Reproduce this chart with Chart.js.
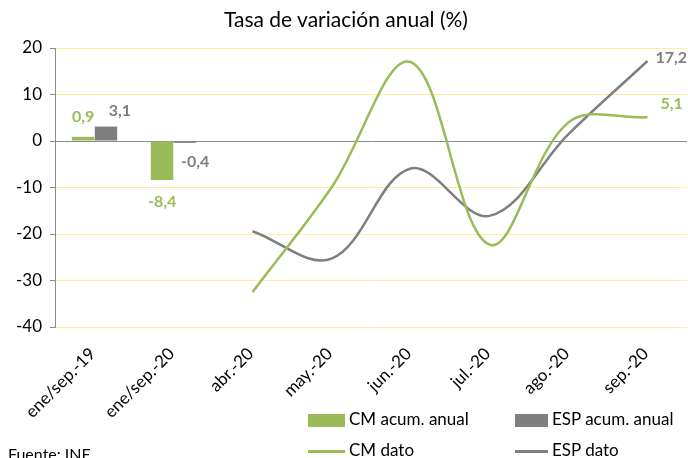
<!DOCTYPE html>
<html>
<head>
<meta charset="utf-8">
<script src="https://cdn.jsdelivr.net/npm/chart.js@4"></script>
<style>
  body { margin: 0; background: #fff; font-family: Lato, 'Noto Sans', sans-serif; }
  #wrap { position: relative; width: 688px; height: 458px; overflow: hidden; }
  #subtitle { position: absolute; top: 6px; left: 2px; width: 688px; text-align: center; font-size: 21px; color: #000; }
  .leg { position: absolute; font-size: 17px; color: #000; white-space: nowrap; }
  .leg span { display: inline-block; vertical-align: middle; margin-right: 4px; }
  #fuente { position: absolute; left: 8px; top: 444px; font-size: 16px; color: #000; }
</style>
</head>
<body>
<div id="wrap">
  <canvas id="chart" width="688" height="458"></canvas>
  <div id="subtitle">Tasa de variación anual (%)</div>
  <div class="leg" style="left:308px;top:408px"><span style="width:37px;height:13px;background:#9bbb59"></span>CM acum. anual</div>
  <div class="leg" style="left:515px;top:408px"><span style="width:33px;height:13px;background:#7f7f7f"></span>ESP acum. anual</div>
  <div class="leg" style="left:308px;top:439px"><span style="width:37px;height:3px;background:#9bbb59"></span>CM dato</div>
  <div class="leg" style="left:515px;top:439px"><span style="width:33px;height:3px;background:#7f7f7f"></span>ESP dato</div>
  <div id="fuente">Fuente: INE</div>
</div>
<script>
const categories = ['ene/sep.-19', 'ene/sep.-20', 'abr.-20', 'may.-20', 'jun.-20', 'jul.-20', 'ago.-20', 'sep.-20'];
const cmAcum = [0.9, -8.4, null, null, null, null, null, null];
const espAcum = [3.1, -0.4, null, null, null, null, null, null];
const cmDato = [null, null, -32.5, -10, 17, -22.3, 4, 5.1];
const espDato = [null, null, -19.4, -25.3, -5.9, -16.1, 1.5, 17.2];

const green = '#9bbb59';
const grey = '#7f7f7f';

// value labels (only the ones the original shows)
const labelPlugin = {
  id: 'valueLabels',
  afterDatasetsDraw(chart) {
    const ctx = chart.ctx;
    ctx.save();
    ctx.font = 'bold 16px Lato, sans-serif';
    ctx.textBaseline = 'middle';
    const fmt = v => String(v).replace('.', ',');
    const put = (di, i, dx, dy, align) => {
      const el = chart.getDatasetMeta(di).data[i];
      const v = chart.data.datasets[di].data[i];
      ctx.fillStyle = chart.data.datasets[di].borderColor || chart.data.datasets[di].backgroundColor;
      ctx.textAlign = align;
      ctx.fillText(fmt(v), el.x + dx, el.y + dy);
    };
    put(0, 0, 0, -20, 'center');
    put(1, 0, 14, -16, 'center');
    put(0, 1, 0, 22, 'center');
    put(1, 1, -4, 19, 'left');
    put(3, 7, 8, -3, 'left');
    put(2, 7, 13, -13, 'left');
    ctx.restore();
  }
};

// rotated category labels, drawn at the x scale's tick positions
const xLabels = {
  id: 'xLabels',
  afterDraw(chart) {
    const ctx = chart.ctx;
    const xs = chart.scales.x;
    ctx.save();
    ctx.font = '17px Lato, sans-serif';
    ctx.fillStyle = '#000';
    ctx.textAlign = 'right';
    ctx.textBaseline = 'middle';
    categories.forEach((c, i) => {
      ctx.save();
      ctx.translate(xs.getPixelForTick(i) - 2, xs.top + 24);
      ctx.rotate(-Math.PI / 4);
      ctx.fillText(c, 0, 0);
      ctx.restore();
    });
    ctx.restore();
  }
};

new Chart(document.getElementById('chart'), {
  type: 'bar',
  data: {
    labels: categories,
    datasets: [
      { label: 'CM acum. anual', data: cmAcum, backgroundColor: green, barPercentage: 0.98, categoryPercentage: 0.58 },
      { label: 'ESP acum. anual', data: espAcum, backgroundColor: grey, barPercentage: 0.98, categoryPercentage: 0.58 },
      { type: 'line', label: 'CM dato', data: cmDato, borderColor: green, borderWidth: 2.5, pointRadius: 0, tension: 0.36, fill: false },
      { type: 'line', label: 'ESP dato', data: espDato, borderColor: grey, borderWidth: 2.5, pointRadius: 0, tension: 0.36, fill: false }
    ]
  },
  options: {
    responsive: false,
    animation: false,
    layout: { padding: { top: 48, right: 1, bottom: 61, left: 0 } },
    plugins: { legend: { display: false }, tooltip: { enabled: false } },
    scales: {
      x: {
        grid: { display: false },
        border: { display: false },
        ticks: { display: false },
        afterFit(s) { s.height = 70; }
      },
      y: {
        min: -40, max: 20,
        ticks: { stepSize: 10, color: '#000', font: { family: 'Lato', size: 17 }, padding: 8 },
        grid: {
          color: c => (c.tick && c.tick.value === 0) ? '#8c8c8c' : '#ffec9e',
          lineWidth: 1,
          tickColor: '#8c8c8c',
          tickLength: 5
        },
        border: { color: '#8c8c8c', width: 1 },
        afterFit(s) { s.width = 55; }
      }
    }
  },
  plugins: [labelPlugin, xLabels]
});
</script>
</body>
</html>
